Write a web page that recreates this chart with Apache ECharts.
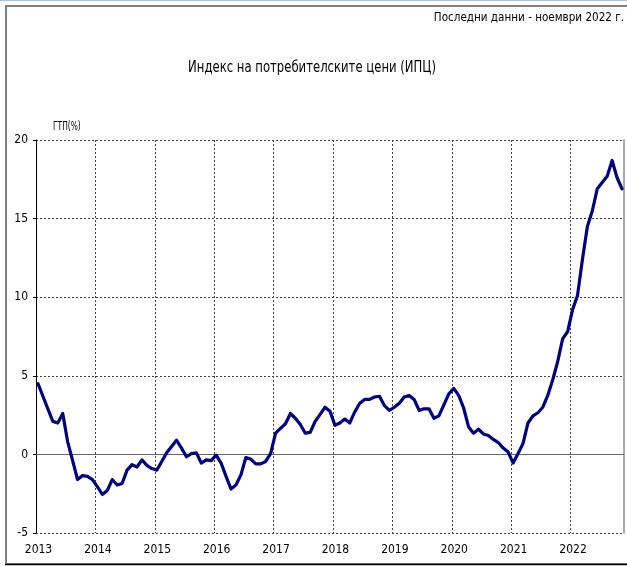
<!DOCTYPE html>
<html><head><meta charset="utf-8">
<script src="https://cdn.jsdelivr.net/npm/echarts@6/dist/echarts.min.js"></script>
<style>html,body{margin:0;padding:0;background:#fff}#c{width:627px;height:566px}</style>
</head><body><div id="c"></div>
<script>
// ---- data (ИПЦ, годишно изменение, %) ----
const startYear = 2013;
const years = ['2013','2014','2015','2016','2017','2018','2019','2020','2021','2022'];
const v2013 = [4.5, 3.7, 2.9, 2.1, 2.0, 2.6, 0.8, -0.4, -1.6, -1.35, -1.4, -1.6];
const v2014 = [-2.05, -2.55, -2.3, -1.6, -1.95, -1.85, -1.0, -0.65, -0.8, -0.35, -0.7, -0.9];
const v2015 = [-1.0, -0.45, 0.1, 0.5, 0.9, 0.4, -0.15, 0.05, 0.1, -0.55, -0.35, -0.4];
const v2016 = [-0.05, -0.55, -1.4, -2.2, -1.95, -1.3, -0.2, -0.3, -0.6, -0.6, -0.45, 0.05];
const v2017 = [1.35, 1.65, 1.95, 2.6, 2.3, 1.9, 1.35, 1.4, 2.1, 2.55, 3.0, 2.75];
const v2018 = [1.85, 2.0, 2.25, 2.0, 2.7, 3.25, 3.5, 3.5, 3.65, 3.7, 3.1, 2.8];
const v2019 = [3.0, 3.25, 3.65, 3.75, 3.5, 2.8, 2.9, 2.9, 2.3, 2.45, 3.15, 3.85];
const v2020 = [4.2, 3.75, 2.95, 1.75, 1.35, 1.6, 1.3, 1.2, 0.95, 0.75, 0.4, 0.15];
const v2021 = [-0.55, 0.05, 0.7, 2.0, 2.45, 2.65, 3.0, 3.75, 4.75, 5.9, 7.35, 7.8];
const v2022 = [9.2, 10.1, 12.4, 14.5, 15.5, 16.9, 17.3, 17.7, 18.7, 17.6, 16.9];
const yTicks = [-5, 0, 5, 10, 15, 20];

const values = [].concat(v2013, v2014, v2015, v2016, v2017, v2018, v2019, v2020, v2021, v2022);
const months = values.map((_, i) => String(i % 12 + 1).padStart(2, '0') + '.' + (startYear + Math.floor(i / 12)));
const seriesData = values.map((v, i) => [i, v]);

const FONT = "'Liberation Sans Narrow', 'DejaVu Sans Condensed', 'Liberation Sans', sans-serif";
const gridDash = { color: '#444', width: 1, type: [2, 2] };

const chart = echarts.init(document.getElementById('c'), null, { renderer: 'canvas' });
chart.setOption({
  animation: false,
  backgroundColor: '#fff',
  textStyle: { fontFamily: FONT, color: '#000' },
  grid: { left: 36, right: 3, top: 140, bottom: 33, containLabel: false },
  xAxis: [
    { type: 'value', gridIndex: 0, min: 0, max: 118.8, interval: 12,
      axisLine: { show: false }, axisTick: { show: false },
      axisLabel: { show: true, margin: 11, fontSize: 12, fontFamily: FONT, color: '#000', padding: [0, 0, 0, 5],
        formatter: v => (Math.abs(v % 12) < 1e-6 ? years[Math.round(v / 12)] : '') },
      splitLine: { show: true, lineStyle: gridDash } },
    { type: 'value', gridIndex: 0, min: -0.4, max: 118.4, position: 'bottom',
      axisLine: { show: true, onZero: true, onZeroAxisIndex: 0, lineStyle: { color: '#666', width: 1 } },
      axisTick: { show: false }, axisLabel: { show: false }, splitLine: { show: false } }
  ],
  yAxis: [
    { type: 'value', min: yTicks[0], max: yTicks[yTicks.length - 1], interval: 5, position: 'left',
      axisLine: { show: true, onZero: false, lineStyle: { color: '#000', width: 1 } },
      axisTick: { show: true, length: 3, lineStyle: { color: '#000' } },
      axisLabel: { margin: 8, fontSize: 12, fontFamily: FONT, color: '#000' },
      splitLine: { show: true, lineStyle: gridDash } },
    { type: 'value', min: yTicks[0], max: yTicks[yTicks.length - 1], interval: 5, position: 'right',
      axisLine: { show: true, onZero: false, lineStyle: { color: '#aaa', width: 2 } },
      axisTick: { show: false }, axisLabel: { show: false }, splitLine: { show: false } }
  ],
  series: [{
    type: 'line', name: 'ИПЦ', xAxisIndex: 1, yAxisIndex: 0,
    data: seriesData, symbol: 'none', smooth: false,
    lineStyle: { color: '#000080', width: 3.2, cap: 'round', join: 'round' },
    z: 5
  }],
  graphic: [
    { type: 'line', silent: true, shape: { x1: 0, y1: 0.5, x2: 627, y2: 0.5 }, style: { stroke: '#9dc3e6', lineWidth: 1 } },
    { type: 'rect', silent: true, shape: { x: 6, y: 6, width: 640, height: 558 }, style: { fill: null, stroke: '#808080', lineWidth: 2 } },
    { type: 'line', silent: true, shape: { x1: 5, y1: 564.5, x2: 627, y2: 564.5 }, style: { stroke: '#000', lineWidth: 1.5 } },
    { type: 'text', silent: true, x: 312, y: 68, scaleX: 0.81,
      style: { text: 'Индекс на потребителските цени (ИПЦ)', fontFamily: FONT, fontSize: 16, fill: '#000', textAlign: 'center', textVerticalAlign: 'middle' } },
    { type: 'text', silent: true, x: 624, y: 18, scaleX: 0.89,
      style: { text: 'Последни данни - ноември 2022 г.', fontFamily: FONT, fontSize: 13, fill: '#000', textAlign: 'right', textVerticalAlign: 'middle' } },
    { type: 'text', silent: true, x: 53, y: 127, scaleX: 0.64,
      style: { text: 'ГТП(%)', fontFamily: FONT, fontSize: 13, fill: '#000', textAlign: 'left', textVerticalAlign: 'middle' } }
  ]
});
</script>
</body></html>
